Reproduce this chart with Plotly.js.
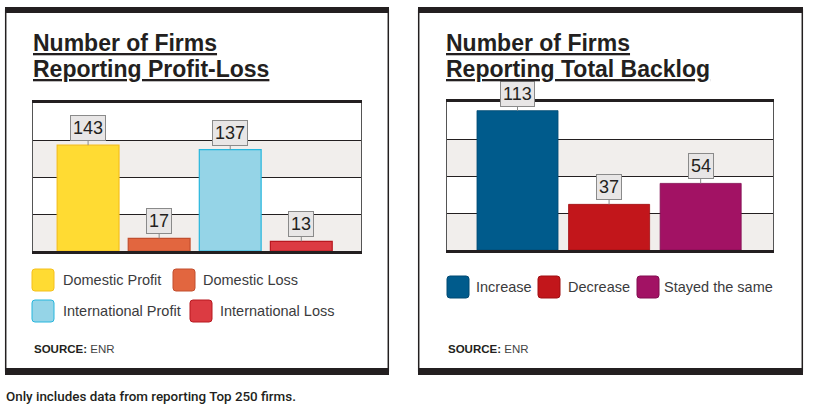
<!DOCTYPE html>
<html>
<head>
<meta charset="utf-8">
<script src="https://cdn.plot.ly/plotly-3.0.1.min.js"></script>
<style>
html,body{margin:0;padding:0;background:#fff;}
#chart{width:815px;height:411px;}
</style>
</head>
<body>
<div id="chart"></div>
<script>
// ---- Data ----
const plCategories = ['Domestic Profit', 'Domestic Loss', 'International Profit', 'International Loss'];
const plValues = [143, 17, 137, 13];
const blCategories = ['Increase', 'Decrease', 'Stayed the same'];
const blValues = [113, 37, 54];

const plTitle = ['Number of Firms', 'Reporting Profit-Loss'];
const blTitle = ['Number of Firms', 'Reporting Total Backlog'];
const footnote = 'Only includes data from reporting Top 250 firms.';

// ---- Styles ----
const plColors = ['#ffdb33', '#e2663f', '#95d4e7', '#dc3b42'];
const plLines = ['#f5c01c', '#c24e2e', '#27b6dd', '#b8181f'];
const blColors = ['#005b8c', '#c2161b', '#a21264'];
const blLines = ['#004a73', '#a00f13', '#820c50'];

const W = 815, H = 411;
const px = x => x / W;
const py = y => 1 - y / H;
const ink = '#231f20';
const FONT = 'Liberation Sans, Arial, Helvetica, sans-serif';

function roundRect(x, y, w, h, r) {
  const P = (a, b) => px(a) + ',' + py(b);
  return 'M' + P(x + r, y) + ' L' + P(x + w - r, y) + ' Q' + P(x + w, y) + ' ' + P(x + w, y + r) +
    ' L' + P(x + w, y + h - r) + ' Q' + P(x + w, y + h) + ' ' + P(x + w - r, y + h) +
    ' L' + P(x + r, y + h) + ' Q' + P(x, y + h) + ' ' + P(x, y + h - r) +
    ' L' + P(x, y + r) + ' Q' + P(x, y) + ' ' + P(x + r, y) + ' Z';
}

const traces = [
  {
    type: 'bar', x: plCategories, y: plValues, xaxis: 'x', yaxis: 'y',
    width: 0.87,
    marker: {color: plColors, line: {color: plLines, width: 1.2}},
    showlegend: false, hoverinfo: 'x+y'
  },
  {
    type: 'bar', x: blCategories, y: blValues, xaxis: 'x2', yaxis: 'y2',
    width: 0.885,
    marker: {color: blColors, line: {color: blLines, width: 0.8}},
    showlegend: false, hoverinfo: 'x+y'
  }
];

const shapes = [];
const annotations = [];

// Panel frames
[[5, 389], [418, 803]].forEach(([a, b]) => {
  shapes.push({type: 'rect', xref: 'paper', yref: 'paper', x0: px(a + 0.7), x1: px(b - 0.7), y0: py(371), y1: py(10),
    line: {color: ink, width: 1.5}, fillcolor: 'rgba(0,0,0,0)'});
  shapes.push({type: 'rect', xref: 'paper', yref: 'paper', x0: px(a), x1: px(b), y0: py(13), y1: py(7),
    line: {width: 0}, fillcolor: ink});
  shapes.push({type: 'rect', xref: 'paper', yref: 'paper', x0: px(a), x1: px(b), y0: py(375), y1: py(368),
    line: {width: 0}, fillcolor: ink});
});

// Grey bands
[[0, 50], [100, 150]].forEach(([a, b]) => shapes.push({type: 'rect', xref: 'x domain', yref: 'y', x0: 0, x1: 1, y0: a, y1: b,
  fillcolor: '#f1eeec', line: {width: 0}, layer: 'below'}));
[[0, 30], [60, 90]].forEach(([a, b]) => shapes.push({type: 'rect', xref: 'x2 domain', yref: 'y2', x0: 0, x1: 1, y0: a, y1: b,
  fillcolor: '#f1eeec', line: {width: 0}, layer: 'below'}));

// Value callouts
function callouts(cats, vals, xr, yr) {
  cats.forEach((c, i) => annotations.push({
    xref: xr, yref: yr, x: c, y: vals[i], text: String(vals[i]),
    showarrow: true, ax: 0, ay: -17, arrowhead: 0, arrowwidth: 1, arrowcolor: '#8a8a8a', standoff: 0,
    bgcolor: '#e8e6e6', bordercolor: '#8a8a8a', borderwidth: 1, borderpad: 2,
    font: {family: FONT, size: 18, color: ink}
  }));
}
callouts(plCategories, plValues, 'x', 'y');
callouts(blCategories, blValues, 'x2', 'y2');

// Titles
function title(lines, x) {
  annotations.push({xref: 'paper', yref: 'paper', x: px(x), y: py(43), xanchor: 'left', yanchor: 'middle',
    text: '<u>' + lines[0] + '</u>', showarrow: false, font: {family: FONT, size: 23, color: ink, weight: 'bold'}});
  annotations.push({xref: 'paper', yref: 'paper', x: px(x), y: py(69.5), xanchor: 'left', yanchor: 'middle',
    text: '<u>' + lines[1] + '</u>', showarrow: false, font: {family: FONT, size: 23, color: ink, weight: 'bold'}});
}
title(plTitle, 31);
title(blTitle, 444);

// Legends
function legendItem(label, color, line, sx, cy, tx) {
  shapes.push({type: 'path', xref: 'paper', yref: 'paper', path: roundRect(sx, cy - 11, 22, 22, 3),
    fillcolor: color, line: {color: line, width: 1}});
  annotations.push({xref: 'paper', yref: 'paper', x: px(tx), y: py(cy), xanchor: 'left', yanchor: 'middle',
    text: label, showarrow: false, font: {family: FONT, size: 14.5, color: '#3b3b3d'}});
}
const plLegPos = [[32, 280, 61], [173, 280, 201], [32, 311, 61], [190, 311, 218]];
plCategories.forEach((c, i) => legendItem(c, plColors[i], plLines[i], ...plLegPos[i]));
const blLegPos = [[447, 287, 474], [538, 287, 566], [637, 287, 662]];
blCategories.forEach((c, i) => legendItem(c, blColors[i], blLines[i], ...blLegPos[i]));

// Sources
[32, 446].forEach(x => annotations.push({xref: 'paper', yref: 'paper', x: px(x), y: py(349), xanchor: 'left', yanchor: 'middle',
  text: '<b>SOURCE:</b> <span style="color:#444">ENR</span>', showarrow: false, font: {family: FONT, size: 11.5, color: ink}}));

// Footnote
annotations.push({xref: 'paper', yref: 'paper', x: px(4), y: py(396), xanchor: 'left', yanchor: 'middle',
  text: footnote, showarrow: false,
  font: {family: 'Roboto, Liberation Sans, sans-serif', size: 13.4, color: ink, weight: 500}});

const yAxisCommon = {showticklabels: false, ticks: '', showgrid: true, gridcolor: ink, gridwidth: 1,
  zeroline: false, showline: true, mirror: true, linecolor: '#555', linewidth: 1, fixedrange: true};
const xAxisCommon = {showticklabels: false, ticks: '', showgrid: false, zeroline: false,
  showline: true, mirror: true, linecolor: ink, linewidth: 3, fixedrange: true, type: 'category'};

const layout = {
  width: W, height: H,
  margin: {l: 0, r: 0, t: 0, b: 0},
  paper_bgcolor: '#ffffff', plot_bgcolor: '#ffffff',
  showlegend: false,
  xaxis: Object.assign({}, xAxisCommon, {domain: [px(33), px(361)], range: [-0.775, 3.84], anchor: 'y'}),
  yaxis: Object.assign({}, yAxisCommon, {domain: [py(251), py(103)], range: [0, 200], dtick: 50, anchor: 'x'}),
  xaxis2: Object.assign({}, xAxisCommon, {domain: [px(447), px(773)], range: [-0.77, 2.79], anchor: 'y2'}),
  yaxis2: Object.assign({}, yAxisCommon, {domain: [py(250), py(102)], range: [0, 120], dtick: 30, anchor: 'x2'}),
  shapes: shapes,
  annotations: annotations,
  font: {family: FONT}
};

Plotly.newPlot('chart', traces, layout, {displayModeBar: false, staticPlot: true});
</script>
</body>
</html>
